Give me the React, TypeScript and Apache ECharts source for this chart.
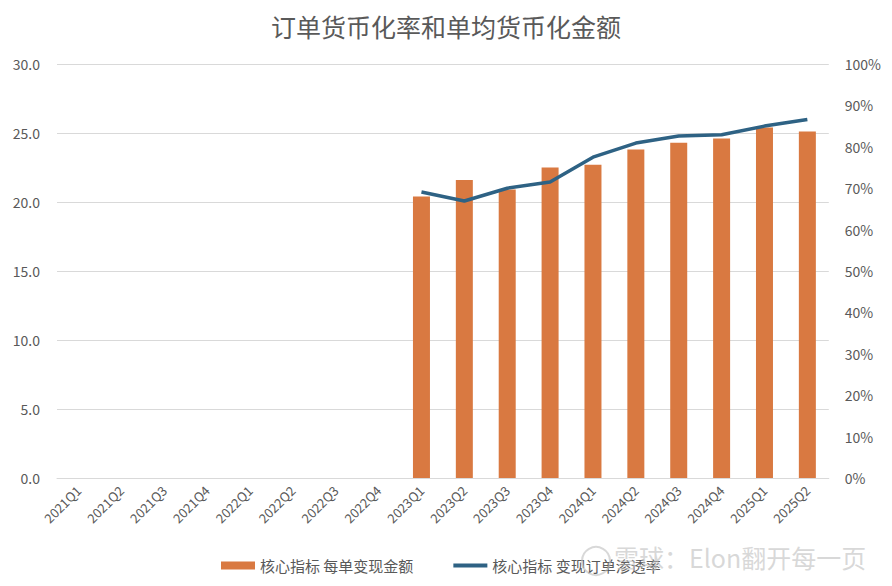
import React, { useEffect, useRef } from "react";
import * as echarts from "echarts";

const categories = [
  "2021Q1", "2021Q2", "2021Q3", "2021Q4",
  "2022Q1", "2022Q2", "2022Q3", "2022Q4",
  "2023Q1", "2023Q2", "2023Q3", "2023Q4",
  "2024Q1", "2024Q2", "2024Q3", "2024Q4",
  "2025Q1", "2025Q2",
];
const amountPerOrder = [
  null, null, null, null, null, null, null, null,
  20.4, 21.6, 20.9, 22.5, 22.7, 23.8, 24.3, 24.6, 25.4, 25.1,
];
const penetrationRate = [
  null, null, null, null, null, null, null, null,
  69.1, 66.9, 70.0, 71.5, 77.5, 80.9, 82.6, 82.9, 85.0, 86.6,
];
const barName = "核心指标 每单变现金额";
const lineName = "核心指标 变现订单渗透率";
const titleText = "订单货币化率和单均货币化金额";

const FONT = "'Noto Sans CJK SC', 'Noto Sans', sans-serif";
const GRAY = "#595959";

export default function App() {
  const ref = useRef<HTMLDivElement>(null);
  useEffect(() => {
    const chart = echarts.init(ref.current!, null, { renderer: "svg" });
    chart.setOption({
      animation: false,
      textStyle: { fontFamily: FONT },
      title: {
        text: titleText,
        left: "center",
        top: 0,
        textStyle: { fontSize: 25, fontWeight: "normal", color: GRAY, fontFamily: FONT },
      },
      legend: {
        bottom: 0,
        left: 208,
        itemGap: 40,
        itemWidth: 34,
        itemHeight: 8,
        textStyle: { fontSize: 15, color: GRAY, fontFamily: FONT },
        data: [
          { name: barName, icon: "rect" },
          { name: lineName, icon: "path://M0,0 L34,0 L34,4 L0,4 Z" },
        ],
      },
      grid: { left: 49, right: 52, top: 56, bottom: 100 },
      xAxis: {
        type: "category",
        data: categories,
        axisLine: { lineStyle: { color: "#D9D9D9" } },
        axisTick: { show: false },
        axisLabel: { rotate: 45, color: GRAY, fontSize: 13, interval: 0, margin: 10, fontFamily: FONT },
      },
      yAxis: [
        {
          type: "value",
          min: 0,
          max: 30,
          interval: 5,
          axisLabel: { color: GRAY, fontSize: 14, formatter: (v: number) => v.toFixed(1), margin: 17, fontFamily: FONT },
          splitLine: { lineStyle: { color: "#D9D9D9" } },
          axisLine: { show: false },
          axisTick: { show: false },
        },
        {
          type: "value",
          min: 0,
          max: 100,
          interval: 10,
          axisLabel: { color: GRAY, fontSize: 14, formatter: (v: number) => v + "%", margin: 16, fontFamily: FONT },
          splitLine: { show: false },
          axisLine: { show: false },
          axisTick: { show: false },
        },
      ],
      series: [
        {
          name: barName,
          type: "bar",
          data: amountPerOrder,
          barWidth: 17,
          itemStyle: { color: "#D97941" },
        },
        {
          name: lineName,
          type: "line",
          yAxisIndex: 1,
          data: penetrationRate,
          symbol: "none",
          lineStyle: { color: "#2E6284", width: 3.5 },
          itemStyle: { color: "#2E6284" },
        },
      ],
      graphic: [
        {
          type: "circle",
          shape: { cx: 588, cy: 553, r: 14 },
          z: 100,
          style: { fill: "none", stroke: "rgba(190,190,190,0.6)", lineWidth: 2 },
        },
        {
          type: "text",
          left: 606,
          top: 536,
          z: 100,
          style: {
            text: "雪球：Elon翻开每一页",
            fontSize: 25,
            fontFamily: FONT,
            fill: "rgba(190,190,190,0.6)",
          },
        },
      ],
    });
    return () => chart.dispose();
  }, []);
  return <div ref={ref} style={{ width: 876, height: 570 }} />;
}
